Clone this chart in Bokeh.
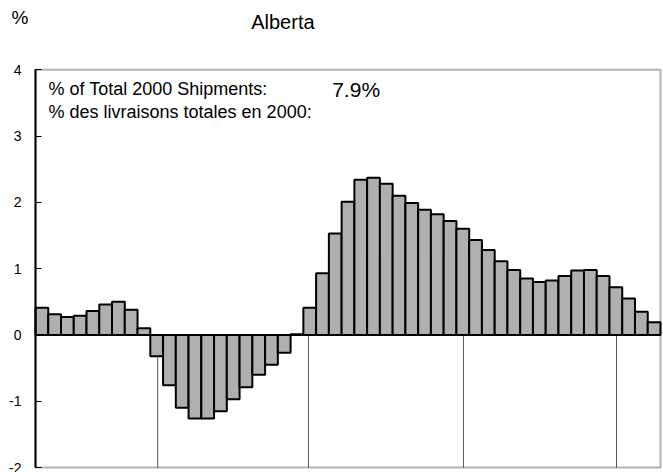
from bokeh.plotting import figure
from bokeh.models import Range1d, FixedTicker, Label, BoxAnnotation
from bokeh.embed import file_html
from bokeh.resources import INLINE

# ---- data (monthly % change, Alberta) ----
values = [0.41, 0.31, 0.27, 0.29, 0.36, 0.46, 0.50, 0.38, 0.10,
          -0.32, -0.76, -1.10, -1.26, -1.26, -1.15, -0.97, -0.79, -0.60, -0.45, -0.27, 0.01,
          0.41, 0.93, 1.53, 2.01, 2.34, 2.37, 2.28, 2.10, 1.99, 1.89, 1.82, 1.72, 1.60,
          1.43, 1.28, 1.11, 0.98, 0.85, 0.80, 0.82, 0.89, 0.97, 0.98, 0.89, 0.72, 0.55, 0.35, 0.19]
periods = list(range(len(values)))
year_dividers = [9.58, 21.4, 33.55, 45.55]
y_ticks = [-2, -1, 0, 1, 2, 3, 4]
y_tick_labels = ["-2", "-1", "0", "1", "2", "3", "4"]
title_text = "Alberta"
unit_text = "%"
share_label_en = "% of Total 2000 Shipments:"
share_label_fr = "% des livraisons totales en 2000:"
share_value = "7.9%"

FONT = "Liberation Sans"
N = len(values)
Y0, Y1 = y_ticks[0], y_ticks[-1]

# canvas: plot box spans px 35..660 horizontally, 69..467 vertically
PX_X = 625 / N
PX_Y = 398 / (Y1 - Y0)
x_range = Range1d(-35 / PX_X, N + 3 / PX_X)
y_range = Range1d(Y0 - 5 / PX_Y, Y1 + 69.3 / PX_Y)

p = figure(width=663, height=472, output_backend="svg", toolbar_location=None,
           x_range=x_range, y_range=y_range, x_axis_type=None,
           min_border=0, min_border_left=0, min_border_right=0,
           min_border_top=0, min_border_bottom=0)
p.background_fill_color = "white"
p.border_fill_color = "white"
p.outline_line_color = None
p.grid.visible = False

ax = p.yaxis[0]
ax.fixed_location = 0
ax.bounds = (Y0, Y1)
ax.ticker = FixedTicker(ticks=y_ticks)
ax.major_label_overrides = {t: s for t, s in zip(y_ticks, y_tick_labels)}
ax.axis_line_width = 2
ax.axis_line_color = "black"
ax.major_tick_in = 6
ax.major_tick_out = 0
ax.major_tick_line_color = "black"
ax.minor_tick_line_color = None
ax.major_label_standoff = 14
ax.major_label_text_font = FONT
ax.major_label_text_font_size = "14px"
ax.major_label_text_color = "black"

# plot box
p.add_layout(BoxAnnotation(left=0, right=N, bottom=Y0, top=Y1,
                           fill_color=None, line_color="black", line_width=2))

# year dividers below zero
p.segment(x0=year_dividers, y0=[Y0] * len(year_dividers),
          x1=year_dividers, y1=[0] * len(year_dividers),
          line_color="#555555", line_width=1)

xs = [i + 0.5 for i in periods]
p.vbar(x=xs, top=values, bottom=0, width=1.0,
       fill_color="#afafaf", line_color="black", line_width=2)

# zero line across plot box
p.segment(x0=[0], y0=[0], x1=[N], y1=[0], line_color="black", line_width=2)

def lab(x, y, text, size):
    p.add_layout(Label(x=x, y=y, text=text, text_font=FONT, text_font_size=size,
                       text_color="black", text_baseline="alphabetic", text_align="left"))

lab(1.02, 3.705, share_label_en, "18px")
lab(1.02, 3.365, share_label_fr, "18px")
lab(23.26, 3.695, share_value, "21px")
lab(16.91, 4.725, title_text, "20px")
lab(-1.88, 4.79, unit_text, "19px")

open("out.html", "w").write(file_html(p, INLINE))
